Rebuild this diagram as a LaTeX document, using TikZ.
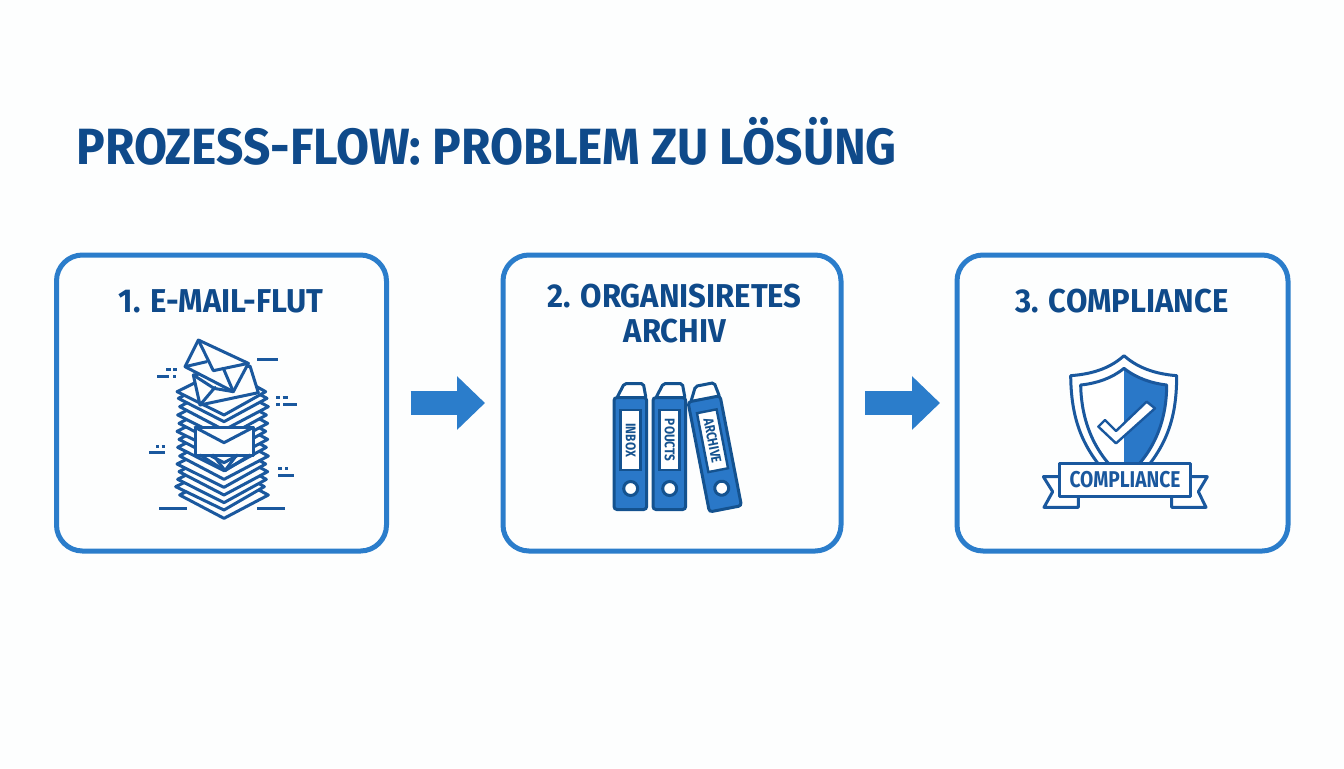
\documentclass[tikz,border=0pt]{standalone}
\usepackage{fontspec}
\usepackage{tikz}
\usetikzlibrary{arrows.meta}
\newfontfamily\headFont[FakeStretch=0.94]{Fira Sans}
\newfontfamily\tagFont[FakeStretch=0.84]{Fira Sans}
\definecolor{titleColor}{RGB}{15,74,138}
\definecolor{cardColor}{RGB}{43,125,203}
\definecolor{iconColor}{RGB}{26,88,158}
\definecolor{binderColor}{RGB}{42,120,200}
\definecolor{binderEdge}{RGB}{20,82,143}
\definecolor{paperColor}{RGB}{253,254,254}
\newcommand{\unitPx}{.02cm}
\tikzstyle{board} = [x = \unitPx, y = -\unitPx]
\tikzstyle{cardStyle} = [draw=cardColor, line width = 5*\unitPx, rounded corners = 26*\unitPx, minimum height = 296*\unitPx, inner sep = 0pt, outer sep = 0pt, anchor = north west]
\tikzstyle{flowArrow} = [draw=cardColor, line width = 24*\unitPx, -{Triangle[length = 28*\unitPx, width = 52*\unitPx]}]
\tikzstyle{cardText} = [font=\headFont\bfseries\fontsize{18.8}{22}\selectfont, text=titleColor, inner sep = 0pt]
\tikzstyle{iconLine} = [draw=iconColor, line width = 3*\unitPx, line join = round, line cap = round]
\tikzstyle{sheetStyle} = [iconLine, fill=paperColor]
\tikzstyle{binderStyle} = [draw=binderEdge, fill=binderColor, line width = 3*\unitPx, rounded corners = 3*\unitPx]
\tikzstyle{binderTop} = [draw=binderEdge, fill=white, line width = 3*\unitPx, rounded corners = 2*\unitPx]
\tikzstyle{binderText} = [font=\tagFont\bfseries\fontsize{8}{9}\selectfont, text=binderEdge, inner sep = 0pt]
\newcommand{\paperSheet}[2]{\filldraw [sheetStyle] (149 + #1, #2) -- (282, #2 + 70) -- (415 + #1, #2) -- (282, #2 - 70) -- cycle;}
\newcommand{\sideDash}[3]{\draw [iconLine, line cap = butt] (#1, #3) -- (#2, #3);}
\newcommand{\binderBook}[5]{
  \begin{scope}[shift = {(#1, #2)}, rotate = #3, scale = 1/3]
    \filldraw [binderTop] (8, 2) -- (31, -42) -- (88, -42) -- (96, 2) -- cycle;
    \filldraw [binderStyle] (0, 0) rectangle (98, 336);
    \filldraw [draw=binderEdge, fill=white, line width = 2.4*\unitPx] (20, 38) rectangle (80, 218);
    \node [binderText, rotate = #4] (#5) at (50, 128) {#5};
    \filldraw [draw=binderEdge, fill=white, line width = 3*\unitPx] (50, 273) circle (21);
  \end{scope}
}
\begin{document}
\begin{tikzpicture}[board]
  \useasboundingbox (0, 0) rectangle (1344, 768);
  \fill [paperColor] (0, 0) rectangle (1344, 768);
  \node [font=\headFont\bfseries\fontsize{29}{34}\selectfont, text=titleColor, inner sep = 0pt, anchor = west] (heading) at (76, 141) {PROZESS-FLOW: PROBLEM ZU LÖSÜNG};

  \node [cardStyle, minimum width = 330*\unitPx] (cardOne) at (56.5, 255) {};
  \node [cardStyle, minimum width = 338*\unitPx] (cardTwo) at (503, 255) {};
  \node [cardStyle, minimum width = 331*\unitPx] (cardThree) at (957, 255) {};
  \node [cardText] (textOne) at (221, 301) {1. E-MAIL-FLUT};
  \node [cardText] (textTwo) at (674.5, 296) {2. ORGANISIRETES};
  \node [cardText] (textTwoB) at (675, 331) {ARCHIV};
  \node [cardText] (textThree) at (1122, 301) {3. COMPLIANCE};
  \draw [flowArrow, shorten <= 24*\unitPx, shorten >= 18*\unitPx] (cardOne.east) -- (cardTwo.west);
  \draw [flowArrow, shorten <= 24*\unitPx, shorten >= 17*\unitPx] (cardTwo.east) -- (cardThree.west);

  \begin{scope}[shift = {(130, 330)}, scale = 1/3]
    \paperSheet{0}{495}
    \paperSheet{-12}{470}
    \paperSheet{-6}{448}
    \paperSheet{-2}{425}
    \paperSheet{-8}{402}
    \paperSheet{0}{378}
    \paperSheet{-6}{352}
    \paperSheet{-2}{328}
    \paperSheet{-8}{304}
    \paperSheet{-2}{280}
    \paperSheet{-6}{255}
    \paperSheet{0}{230}
    \paperSheet{-4}{205}
    \paperSheet{-8}{185}
    \filldraw [sheetStyle] (195, 292) -- (370, 292) -- (370, 375) -- (195, 375) -- cycle;
    \draw [iconLine] (195, 292) -- (282, 338) -- (370, 292);
    \draw [iconLine] (210, 375) -- (285, 422) -- (360, 375);
    \draw [iconLine] (250, 375) -- (285, 422) -- (320, 375);
    \filldraw [sheetStyle] (190, 135) -- (360, 108) -- (385, 188) -- (210, 225) -- cycle;
    \draw [iconLine] (190, 135) -- (252, 175) -- (310, 185);
    \draw [iconLine] (210, 225) -- (255, 172);
    \filldraw [sheetStyle] (205, 30) -- (355, 100) -- (310, 185) -- (165, 110) -- cycle;
    \draw [iconLine] (205, 30) -- (250, 122) -- (355, 100);
    \draw [iconLine] (165, 110) -- (230, 95);
    \draw [iconLine] (280, 115) -- (310, 185);
    \sideDash{108}{122}{118}
    \sideDash{130}{140}{118}
    \sideDash{82}{118}{138}
    \sideDash{130}{138}{138}
    \sideDash{382}{445}{89}
    \sideDash{438}{450}{203}
    \sideDash{458}{475}{203}
    \sideDash{438}{450}{222}
    \sideDash{460}{500}{222}
    \sideDash{78}{88}{349}
    \sideDash{95}{105}{349}
    \sideDash{58}{105}{368}
    \sideDash{445}{455}{416}
    \sideDash{465}{475}{416}
    \sideDash{445}{492}{437}
    \sideDash{88}{170}{535}
    \sideDash{382}{465}{535}
  \end{scope}

  \binderBook{614}{397.5}{0}{-90}{INBOX}
  \binderBook{653}{397.5}{0}{-90}{POUCTS}
  \binderBook{688}{402}{11}{-79}{ARCHIVE}

  \begin{scope}[shift = {(1030, 345)}, scale = 1/3]
    \filldraw [iconLine, fill=white] (282, 32) .. controls (330, 75) and (390, 88) .. (440, 92) .. controls (440, 240) and (400, 330) .. (282, 440) .. controls (164, 330) and (124, 240) .. (122, 92) .. controls (175, 88) and (235, 75) .. (282, 32) -- cycle;
    \fill [binderColor] (282, 70) .. controls (320, 100) and (365, 115) .. (410, 120) .. controls (410, 230) and (370, 330) .. (282, 400) -- cycle;
    \draw [iconLine] (282, 70) .. controls (320, 100) and (365, 115) .. (410, 120) .. controls (410, 230) and (370, 330) .. (282, 400) .. controls (194, 330) and (154, 230) .. (152, 120) .. controls (200, 115) and (245, 100) .. (282, 70) -- cycle;
    \filldraw [iconLine, fill=white, line width = 2.4*\unitPx] (225, 225) -- (205, 245) -- (258, 295) -- (375, 190) -- (350, 170) -- (258, 258) -- cycle;
    \filldraw [iconLine, fill=white] (88, 395) -- (40, 395) -- (68, 440) -- (42, 487) -- (145, 487) -- (145, 455) -- cycle;
    \filldraw [iconLine, fill=white] (482, 395) -- (532, 395) -- (505, 440) -- (528, 487) -- (425, 487) -- (425, 455) -- cycle;
    \filldraw [iconLine, fill=white] (88, 355) rectangle (482, 455);
    \node [font=\tagFont\bfseries\fontsize{13}{15}\selectfont, text=iconColor, inner sep = 0pt] (bannerText) at (285, 405) {COMPLIANCE};
  \end{scope}
\end{tikzpicture}
\end{document}
